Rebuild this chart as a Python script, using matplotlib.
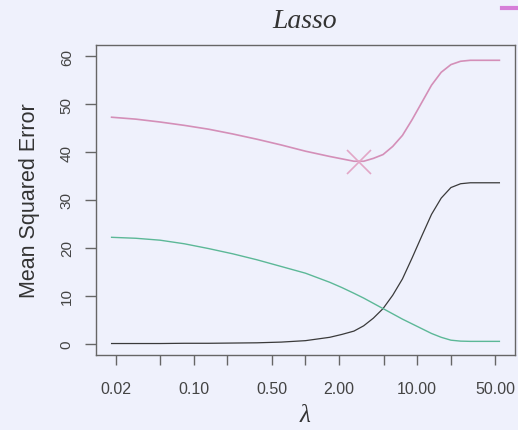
import matplotlib
matplotlib.use("Agg")
import matplotlib.pyplot as plt
from matplotlib.lines import Line2D
import numpy as np

# log(lambda) grid and the three curves read along it
log_lambda = [-4, -3.5, -3, -2.5, -2, -1.5, -1, -0.5, 0, 0.5, 0.75, 1.0,
              1.2, 1.4, 1.6, 1.8, 2.0, 2.2, 2.4, 2.6, 2.8, 3.0, 3.2, 3.4, 4]
bias_sq = [0.0, 0.0, 0.0, 0.05, 0.05, 0.1, 0.15, 0.3, 0.6, 1.3, 1.9, 2.6,
           3.7, 5.3, 7.3, 10.1, 13.5, 17.9, 22.5, 27.0, 30.4, 32.6, 33.4, 33.6, 33.6]
variance = [22.2, 22.0, 21.6, 20.85, 19.85, 18.75, 17.5, 16.1, 14.7, 12.8, 11.7, 10.5,
            9.5, 8.4, 7.3, 6.2, 5.1, 4.1, 3.1, 2.1, 1.3, 0.7, 0.5, 0.45, 0.45]
test_mse = [47.3, 46.9, 46.3, 45.6, 44.8, 43.8, 42.7, 41.5, 40.2, 39.1, 38.6, 38.1,
            38.1, 38.7, 39.5, 41.2, 43.5, 46.8, 50.4, 54.0, 56.7, 58.3, 59.0, 59.2, 59.2]

best_lambda = 3.0
best_mse = 38.0

xticks = [0.02, 0.05, 0.10, 0.20, 0.50, 1.00, 2.00, 5.00, 10.00, 20.00, 50.00]
xticklabels = ["0.02", "", "0.10", "", "0.50", "", "2.00", "", "10.00", "", "50.00"]
yticks = [0, 10, 20, 30, 40, 50, 60]

bg = "#eff1fc"
plt.rcParams["font.family"] = ["Liberation Sans", "DejaVu Sans"]

fig = plt.figure(figsize=(5.18, 4.31), dpi=100, facecolor=bg)
ax = fig.add_axes([0.1853, 0.174, 0.8089, 0.7193], facecolor=bg)

lam = np.exp(log_lambda)
ax.plot(lam, bias_sq, color="#3a3a3a", lw=0.9)
ax.plot(lam, variance, color="#5cb897", lw=1.0)
ax.plot(lam, test_mse, color="#d48fb8", lw=1.2)
ax.plot([best_lambda], [best_mse], marker="x", ms=17, mew=1.2,
        color="#e2a6c6", linestyle="")

ax.set_xscale("log")
ax.set_xlim(10 ** -1.877, 10 ** 1.877)
ax.set_ylim(-2.4, 62.4)
ax.minorticks_off()
ax.set_xticks(xticks)
ax.set_xticklabels(xticklabels)
ax.set_yticks(yticks)
ax.set_yticklabels([str(v) for v in yticks], rotation=90, va="center")

for s in ax.spines.values():
    s.set_color("#666666")
    s.set_linewidth(1.0)
ax.tick_params(axis="x", length=7.5, width=1.0, color="#666666",
               labelsize=11.5, labelcolor="#444444", pad=11)
ax.tick_params(axis="y", length=8, width=1.0, color="#666666",
               labelsize=11, labelcolor="#444444", pad=8)

ax.set_ylabel("Mean Squared Error", fontsize=15.5, color="#333333", labelpad=14)

fig.text(0.589, 0.95, "Lasso", family=["Liberation Serif", "DejaVu Serif"],
         style="italic", fontsize=20, color="#333333", ha="center", va="center")
fig.text(0.589, 0.02, "λ", family=["Liberation Serif", "DejaVu Serif"],
         style="italic", fontsize=18, color="#333333", ha="center", va="baseline")

# stray legend key peeking in at the top right corner
fig.add_artist(Line2D([502 / 518, 1.0], [1 - 9 / 431, 1 - 9 / 431],
                      color="#d67ed8", lw=3, transform=fig.transFigure))

fig.savefig("out.png", dpi=100, facecolor=bg)
